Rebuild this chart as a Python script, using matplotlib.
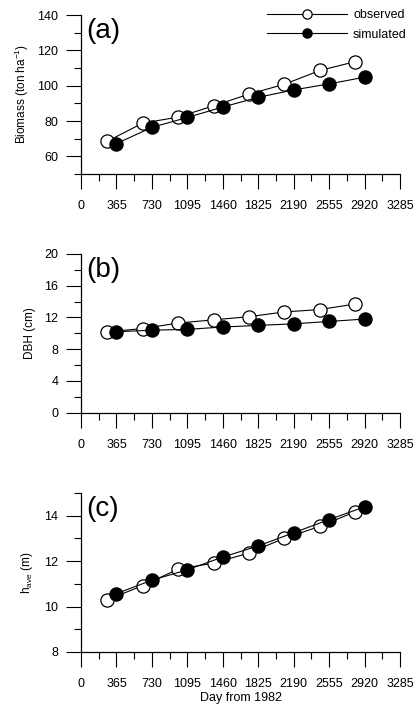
import matplotlib
matplotlib.use("Agg")
import matplotlib.pyplot as plt
from matplotlib.ticker import MultipleLocator, FixedLocator

plt.rcParams['font.family'] = ['Liberation Sans', 'DejaVu Sans']
plt.rcParams['mathtext.fontset'] = 'custom'
plt.rcParams['mathtext.rm'] = 'Liberation Sans'

# days of measurement
day_obs = [270, 635, 1000, 1365, 1730, 2095, 2460, 2825]
day_sim = [365, 730, 1095, 1460, 1825, 2190, 2555, 2920]

# (a) biomass
bio_obs = [68.5, 78.8, 82.2, 88.6, 95.2, 100.8, 108.6, 113.6]
bio_sim = [67.2, 76.4, 82.0, 87.9, 93.4, 97.6, 101.0, 104.8]
# (b) DBH
dbh_obs = [10.2, 10.6, 11.3, 11.7, 12.1, 12.7, 13.0, 13.7]
dbh_sim = [10.2, 10.4, 10.5, 10.8, 11.0, 11.2, 11.5, 11.8]
# (c) average height
h_obs = [10.3, 10.92, 11.65, 11.91, 12.36, 13.01, 13.53, 14.18]
h_sim = [10.57, 11.16, 11.62, 12.18, 12.67, 13.25, 13.83, 14.39]

xticks = [0, 365, 730, 1095, 1460, 1825, 2190, 2555, 2920, 3285]

panels = [
    dict(obs=bio_obs, sim=bio_sim, ylim=(50, 140), major=[60, 80, 100, 120, 140],
         minor=[50, 70, 90, 110, 130], ylabel='Biomass (ton ha$^{\\mathregular{-1}}$)',
         tag='(a)', rect=[81, 15, 319, 159], lx=-0.158),
    dict(obs=dbh_obs, sim=dbh_sim, ylim=(0, 20), major=[0, 4, 8, 12, 16, 20],
         minor=[2, 6, 10, 14, 18], ylabel='DBH (cm)',
         tag='(b)', rect=[81, 254, 319, 158.7], lx=-0.14),
    dict(obs=h_obs, sim=h_sim, ylim=(8, 15), major=[8, 10, 12, 14],
         minor=[9, 11, 13, 15], ylabel='h$_{\\mathregular{ave}}$ (m)',
         tag='(c)', rect=[81, 493, 319, 159], lx=-0.145),
]

W, H = 418, 710
fig = plt.figure(figsize=(W / 100, H / 100), dpi=100)

for i, p in enumerate(panels):
    l, t, w, h = p['rect']
    ax = fig.add_axes([l / W, 1 - (t + h) / H, w / W, h / H])
    lo, = ax.plot(day_obs, p['obs'], '-o', color='black', lw=0.8,
                  ms=9.5, mfc='white', mec='black', mew=0.9, label='observed')
    ls, = ax.plot(day_sim, p['sim'], '-o', color='black', lw=0.8,
                  ms=9.5, mfc='black', mec='black', mew=0.9, label='simulated')
    ax.set_xlim(0, 3285)
    ax.set_ylim(*p['ylim'])
    ax.spines['top'].set_visible(False)
    ax.spines['right'].set_visible(False)
    ax.spines['left'].set_linewidth(0.9)
    ax.spines['bottom'].set_linewidth(0.9)
    ax.xaxis.set_major_locator(FixedLocator(xticks))
    ax.xaxis.set_minor_locator(MultipleLocator(182.5))
    ax.yaxis.set_major_locator(FixedLocator(p['major']))
    ax.yaxis.set_minor_locator(FixedLocator(p['minor']))
    ax.set_xticklabels([str(x) for x in xticks])
    ax.tick_params(which='major', direction='out', length=10.8, width=0.8,
                   labelsize=9)
    ax.tick_params(which='minor', direction='out', length=5, width=0.8)
    ax.tick_params(axis='x', which='major', pad=8)
    ax.tick_params(axis='y', which='major', pad=5.5)
    ax.set_ylabel(p['ylabel'], fontsize=8.5)
    ax.yaxis.set_label_coords(p['lx'], 0.5)
    ax.text(0.016, 0.98, p['tag'], transform=ax.transAxes, fontsize=20,
            ha='left', va='top')
    if i == 0:
        fig.legend(handles=[lo, ls], loc='upper left',
                   bbox_to_anchor=(267 / W, 1 - 9 / H), frameon=False,
                   fontsize=9, handlelength=6.4, handletextpad=0.48,
                   labelspacing=0.6, borderpad=0, borderaxespad=0,
                   markerscale=0.7)
    if i == 2:
        ax.set_xlabel('Day from 1982', fontsize=9, labelpad=1.5)

fig.savefig('out.png', dpi=100)
